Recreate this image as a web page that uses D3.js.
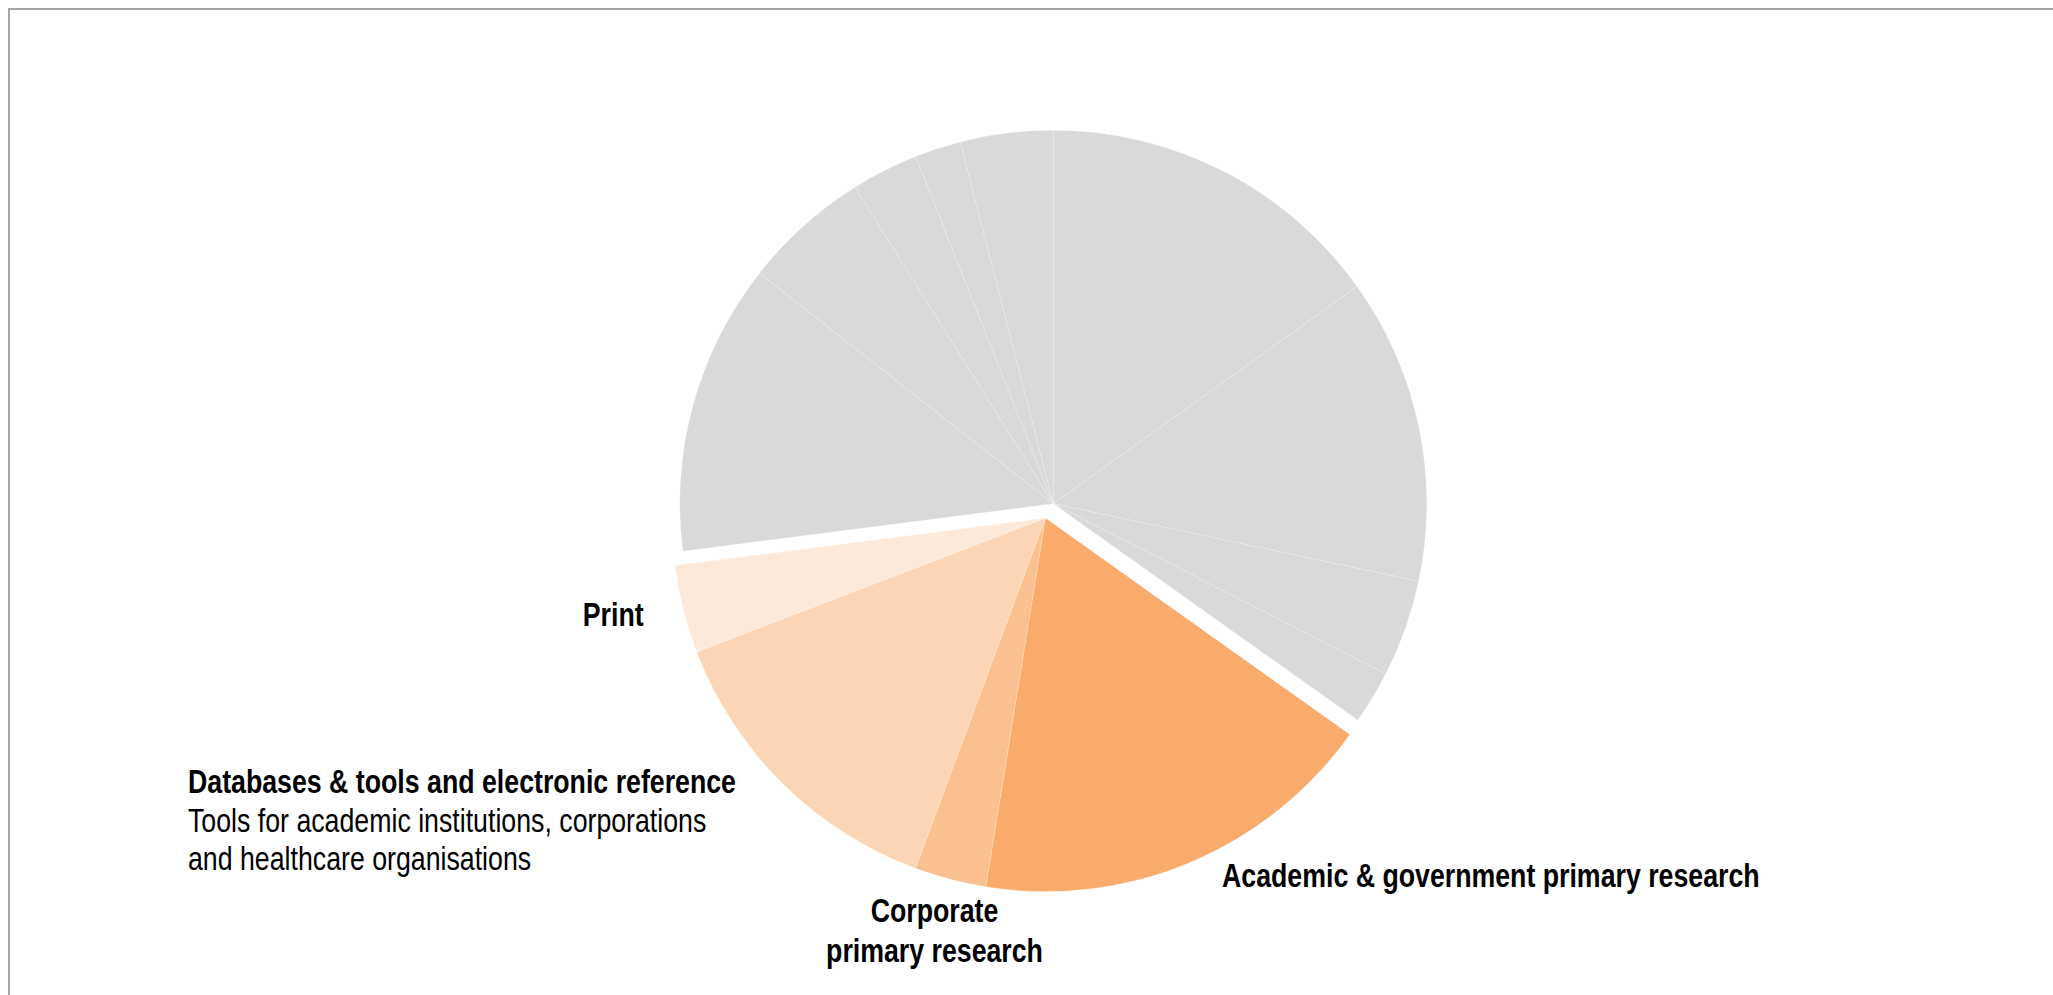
<!DOCTYPE html>
<html>
<head>
<meta charset="utf-8">
<script src="https://cdn.jsdelivr.net/npm/d3@7"></script>
<style>
  html, body { margin: 0; padding: 0; background: #ffffff; }
  svg { display: block; }
  .lbl { font-family: "Liberation Sans", Arial, sans-serif; fill: #000000; }
</style>
</head>
<body>
<div id="chart"></div>
<script>
// Revenue mix, share of total (%), clockwise from 12 o'clock
const segments = [
  "Segment A", "Segment B", "Segment C", "Segment D",
  "Academic & government primary research",
  "Corporate primary research",
  "Databases & tools and electronic reference",
  "Print",
  "Segment E", "Segment F", "Segment G", "Segment H", "Segment I"
];
const shares = [15.1, 13.2, 4.2, 2.3, 17.7, 3.1, 13.5, 3.8, 12.6, 5.5, 2.9, 2.0, 4.0];
// Which slices belong to the highlighted (exploded) group
const highlighted = [false, false, false, false, true, true, true, true, false, false, false, false, false];

// Label text: a bold heading followed by optional regular description lines
const labelHeadings = {
  "Print": ["Print"],
  "Databases & tools and electronic reference": ["Databases & tools and electronic reference"],
  "Corporate primary research": ["Corporate", "primary research"],
  "Academic & government primary research": ["Academic & government primary research"]
};
const labelNotes = {
  "Databases & tools and electronic reference": [
    "Tools for academic institutions, corporations",
    "and healthcare organisations"
  ]
};

const W = 2053, H = 995;
const cx = 1053.3, cy = 503.7, R = 373.5;
const explodeDist = 16.4, explodeAngle = 208.7 * Math.PI / 180;

const fills = {
  "Academic & government primary research": "#f9ab6b",
  "Corporate primary research": "#fac090",
  "Databases & tools and electronic reference": "#fbd5b5",
  "Print": "#fde9d9"
};
const grey = "#d9d9d9";

const svg = d3.select("#chart").append("svg")
  .attr("width", W).attr("height", H);

// frame
svg.append("rect")
  .attr("x", 9).attr("y", 9)
  .attr("width", W + 50).attr("height", H + 50)
  .attr("fill", "none")
  .attr("stroke", "#a6a6a6")
  .attr("stroke-width", 2);

const data = segments.map((name, i) => ({ name, value: shares[i], hi: highlighted[i] }));

const pie = d3.pie().sort(null).value(d => d.value)
  .startAngle(0).endAngle(2 * Math.PI);
const arcs = pie(data);
const arc = d3.arc().innerRadius(0).outerRadius(R);

const root = svg.append("g").attr("transform", `translate(${cx},${cy})`);

const ex = explodeDist * Math.sin(explodeAngle);
const ey = -explodeDist * Math.cos(explodeAngle);

const groups = [
  { hi: false, dx: 0, dy: 0 },
  { hi: true, dx: ex, dy: ey }
];

groups.forEach(g => {
  root.append("g")
    .attr("transform", `translate(${g.dx},${g.dy})`)
    .selectAll("path")
    .data(arcs.filter(a => a.data.hi === g.hi))
    .join("path")
    .attr("d", arc)
    .attr("fill", a => fills[a.data.name] || grey)
    .attr("stroke", "#ffffff")
    .attr("stroke-opacity", 0.35)
    .attr("stroke-width", 0.6)
    .attr("stroke-linejoin", "round");
});

// Labels, set in a condensed face (regular face compressed horizontally)
const fontSize = 32.6, condense = 0.82;
const labelLayout = [
  { key: "Print", x: 643.6, y: 626, anchor: "end", gap: 38.4 },
  { key: "Databases & tools and electronic reference", x: 188, y: 793.3, anchor: "start", gap: 38.4 },
  { key: "Corporate primary research", x: 934.5, y: 921.7, anchor: "middle", gap: 40 },
  { key: "Academic & government primary research", x: 1222, y: 886.7, anchor: "start", gap: 38.4 }
];

labelLayout.forEach(l => {
  const t = svg.append("text")
    .attr("class", "lbl")
    .attr("font-size", fontSize)
    .attr("text-anchor", l.anchor)
    .attr("transform", `translate(${l.x},${l.y}) scale(${condense},1)`);
  const lines = labelHeadings[l.key].map(s => ({ s, bold: true }))
    .concat((labelNotes[l.key] || []).map(s => ({ s, bold: false })));
  lines.forEach((line, i) => {
    t.append("tspan")
      .attr("x", 0)
      .attr("y", i * l.gap)
      .attr("font-weight", line.bold ? "bold" : "normal")
      .text(line.s);
  });
});
</script>
</body>
</html>
